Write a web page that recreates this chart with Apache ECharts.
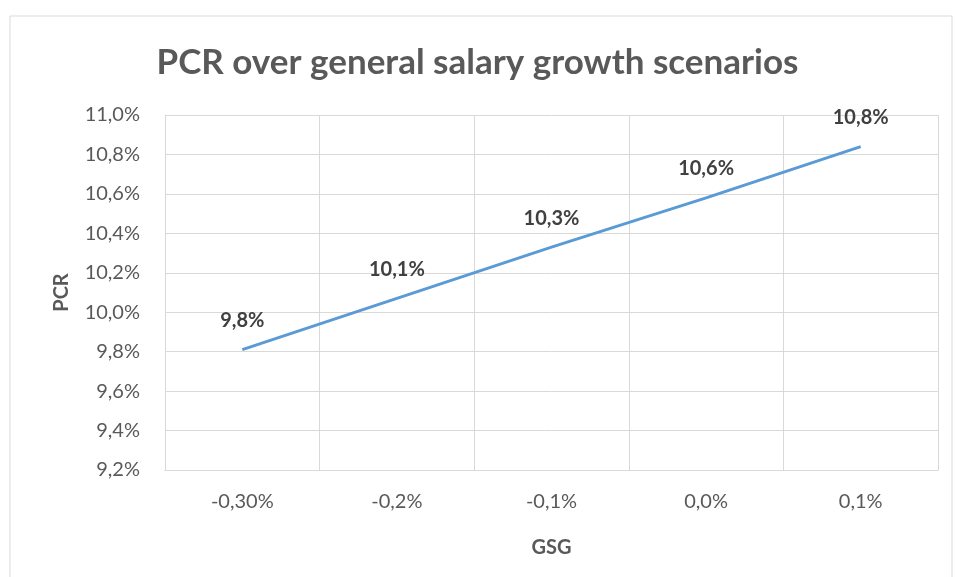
<!DOCTYPE html>
<html>
<head>
<meta charset="utf-8">
<script src="https://cdn.jsdelivr.net/npm/echarts@6/dist/echarts.min.js"></script>
<style>
  html, body { margin: 0; padding: 0; background: #fff; }
  #chart { width: 955px; height: 577px; }
</style>
</head>
<body>
<div id="chart"></div>
<script>
const categories = ['-0,30%', '-0,2%', '-0,1%', '0,0%', '0,1%']
const pcrValues = [9.81, 10.07, 10.33, 10.58, 10.84]
const yMin = 9.2
const yMax = 11.0
const yStep = 0.2

const fmtPct = (v, digits) => v.toFixed(digits).replace('.', ',') + '%'

const chart = echarts.init(document.getElementById('chart'))

const option = {
  animation: false,
  backgroundColor: '#fff',
  textStyle: { fontFamily: 'Lato' },
  graphic: [{
    type: 'rect',
    shape: { x: 10, y: 16, width: 942, height: 600 },
    style: { fill: 'none', stroke: '#d9d9d9', lineWidth: 1 },
    silent: true
  }],
  title: {
    text: 'PCR over general salary growth scenarios',
    left: 'center',
    top: 40,
    textStyle: {
      fontFamily: 'Lato',
      fontSize: 35,
      fontWeight: 'bold',
      color: '#595959'
    }
  },
  grid: {
    left: 165,
    right: 17,
    top: 115,
    bottom: 107
  },
  xAxis: {
    type: 'category',
    data: categories,
    boundaryGap: true,
    name: 'GSG',
    nameLocation: 'middle',
    nameGap: 68,
    nameTextStyle: { fontSize: 20, color: '#595959', fontWeight: 'bold' },
    axisLine: { lineStyle: { color: '#d9d9d9' } },
    axisTick: { show: false },
    axisLabel: { fontSize: 20, color: '#595959', margin: 22 },
    splitLine: { show: true, lineStyle: { color: '#d9d9d9' } }
  },
  yAxis: {
    type: 'value',
    min: yMin,
    max: yMax,
    interval: yStep,
    name: 'PCR',
    nameLocation: 'middle',
    nameGap: 93,
    nameTextStyle: { fontSize: 20, color: '#595959', fontWeight: 'bold' },
    axisLine: { show: true, lineStyle: { color: '#d9d9d9' } },
    axisTick: { show: false },
    axisLabel: {
      fontSize: 20,
      color: '#595959',
      margin: 25,
      formatter: v => fmtPct(v, 1)
    },
    splitLine: { lineStyle: { color: '#d9d9d9' } }
  },
  series: [{
    type: 'line',
    data: pcrValues,
    showSymbol: true,
    showAllSymbol: true,
    symbol: 'circle',
    symbolSize: 2,
    itemStyle: { color: 'rgba(91,155,213,0)' },
    lineStyle: { color: '#5b9bd5', width: 3 },
    label: {
      show: true,
      position: 'top',
      distance: 18,
      fontSize: 20,
      fontWeight: 'bold',
      color: '#404040',
      formatter: p => fmtPct(p.value, 1)
    }
  }]
}

chart.setOption(option)
</script>
</body>
</html>
